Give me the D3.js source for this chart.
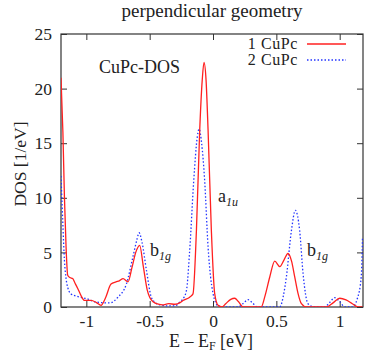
<!DOCTYPE html>
<html>
<head>
	<title>CuPc DOS</title>
	<script src="https://d3js.org/d3.v7.min.js"></script>
	<style>
		body { margin: 0; background: #fff; }
		text { font-family: "Liberation Serif", "DejaVu Serif", serif; fill: #222; }
	</style>
</head>
<body>
	<svg id="chart" width="374" height="353"></svg>
	<script type="text/javascript">
		// 1 CuPc (red, solid)
		var energy1 = [-1.2, -1.185, -1.173, -1.16, -1.147, -1.13, -1.108, -1.09, -1.068, -1.04, -1.015, -0.963, -0.92, -0.884, -0.85, -0.805, -0.766, -0.74, -0.71, -0.671, -0.64, -0.61, -0.579, -0.55, -0.52, -0.5, -0.47, -0.447, -0.4, -0.35, -0.3, -0.26, -0.237, -0.184, -0.158, -0.131, -0.105, -0.085, -0.071, -0.055, -0.039, -0.013, 0.013, 0.04, 0.07, 0.1, 0.14, 0.171, 0.2, 0.237, 0.38, 0.41, 0.448, 0.487, 0.527, 0.56, 0.592, 0.62, 0.645, 0.67, 0.698, 0.737, 0.895, 0.95, 1.0, 1.05, 1.1, 1.145, 1.18];
		var dos1 = [21, 16, 10.1, 5.5, 2.9, 2.7, 2.6, 2.2, 1.7, 1.0, 0.6, 0.6, 0.4, 0.15, 0.8, 2.1, 2.3, 2.4, 2.6, 2.3, 3.6, 5.0, 5.65, 3.7, 1.6, 0.9, 0.45, 0.3, 0.2, 0.3, 0.25, 0.4, 0.6, 0.9, 1.2, 7, 16.2, 20.8, 22.4, 20.8, 16.2, 7, 1.25, 0.15, 0, 0.3, 0.7, 0.8, 0.5, 0, 0, 1.0, 2.75, 4.2, 3.7, 4.3, 4.9, 4.2, 2.75, 1.3, 0.3, 0, 0, 0.4, 0.8, 0.65, 0.3, 0, 0];

		// 2 CuPc (blue, dotted)
		var energy2 = [-1.2, -1.185, -1.173, -1.16, -1.147, -1.121, -1.08, -1.0, -0.92, -0.816, -0.75, -0.684, -0.632, -0.6, -0.584, -0.56, -0.526, -0.487, -0.45, -0.42, -0.35, -0.3, -0.263, -0.24, -0.21, -0.184, -0.152, -0.125, -0.11, -0.09, -0.066, -0.039, 0, 0.04, 0.08, 0.2, 0.24, 0.276, 0.31, 0.35, 0.527, 0.555, 0.579, 0.619, 0.65, 0.684, 0.711, 0.75, 0.8, 0.88, 0.92, 0.96, 1.0, 1.04, 1.1, 1.14, 1.17, 1.18];
		var dos2 = [12, 7.5, 4.3, 2.6, 1.8, 1.2, 1.0, 0.77, 0.45, 0.37, 0.9, 2.1, 4.6, 6.2, 6.8, 5.9, 3.4, 0.9, 0.35, 0.2, 0.1, 0.1, 0.45, 0.7, 1.5, 5.2, 11.6, 15.5, 16.3, 15, 11.6, 5.5, 1.25, 0.1, 0, 0, 0.35, 0.68, 0.4, 0, 0, 1.0, 2.75, 7, 8.85, 7, 3.05, 0.3, 0, 0, 0.4, 0.85, 0.5, 0, 0, 0.8, 2.75, 6.3];

		var xTicks = [-1, -0.5, 0, 0.5, 1];
		var xTickLabels = ['-1', '-0.5', '0', '0.5', '1'];
		var yTicks = [0, 5, 10, 15, 20, 25];
		var seriesNames = ['1 CuPc', '2 CuPc'];

		var plotLeft = 61, plotRight = 363, plotTop = 34, plotBottom = 307;
		var svg = d3.select('#chart');

		var x = d3.scaleLinear().domain([-1.2, 1.184]).range([plotLeft, plotRight]);
		var y = d3.scaleLinear().domain([0, 25]).range([plotBottom, plotTop]);

		svg.append('defs').append('clipPath').attr('id', 'clip')
			.append('rect').attr('x', plotLeft).attr('y', plotTop)
			.attr('width', plotRight - plotLeft).attr('height', plotBottom - plotTop);

		// axes, gnuplot-style inward ticks on all four sides
		var fmt = (d, i) => xTickLabels[i];
		svg.append('g').attr('transform', 'translate(0,' + plotBottom + ')')
			.call(d3.axisBottom(x).tickValues(xTicks).tickFormat(fmt).tickSizeInner(-6).tickSizeOuter(0).tickPadding(8));
		svg.append('g').attr('transform', 'translate(0,' + plotTop + ')')
			.call(d3.axisTop(x).tickValues(xTicks).tickFormat('').tickSizeInner(-6).tickSizeOuter(0));
		svg.append('g').attr('transform', 'translate(' + plotLeft + ',0)')
			.call(d3.axisLeft(y).tickValues(yTicks).tickSizeInner(-6).tickSizeOuter(0).tickPadding(9));
		svg.append('g').attr('transform', 'translate(' + plotRight + ',0)')
			.call(d3.axisRight(y).tickValues(yTicks).tickFormat('').tickSizeInner(-6).tickSizeOuter(0));
		svg.selectAll('.domain').remove();
		svg.selectAll('.tick line').attr('stroke', '#333');
		svg.selectAll('.tick text').style('font-family', '"Liberation Serif", serif').style('font-size', '17.5px').attr('fill', '#222');

		svg.append('rect').attr('x', plotLeft).attr('y', plotTop)
			.attr('width', plotRight - plotLeft).attr('height', plotBottom - plotTop)
			.attr('fill', 'none').attr('stroke', '#333').attr('stroke-width', 1.2);

		var line = d3.line().x(d => x(d[0])).y(d => y(d[1])).curve(d3.curveMonotoneX);
		var pts1 = energy1.map((e, i) => [e, dos1[i]]);
		var pts2 = energy2.map((e, i) => [e, dos2[i]]);

		var plot = svg.append('g').attr('clip-path', 'url(#clip)');
		plot.append('path').datum(pts2).attr('d', line)
			.attr('fill', 'none').attr('stroke', '#2233ff').attr('stroke-width', 1.3).attr('stroke-dasharray', '1.5,2');
		plot.append('path').datum(pts1).attr('d', line)
			.attr('fill', 'none').attr('stroke', '#ff2020').attr('stroke-width', 1.3);

		// legend
		var legend = svg.append('g');
		legend.selectAll('text').data(seriesNames).enter().append('text')
			.attr('x', 298).attr('y', (d, i) => 49 + i * 16)
			.attr('text-anchor', 'end').style('font-size', '16px').style('letter-spacing', '0.6px').text(d => d);
		legend.append('line').attr('x1', 307).attr('x2', 346).attr('y1', 44).attr('y2', 44)
			.attr('stroke', '#ff2020').attr('stroke-width', 1.3);
		legend.append('line').attr('x1', 307).attr('x2', 346).attr('y1', 60).attr('y2', 60)
			.attr('stroke', '#2233ff').attr('stroke-width', 1.3).attr('stroke-dasharray', '1.5,2');

		// titles and labels
		svg.append('text').attr('x', 212).attr('y', 17).attr('text-anchor', 'middle')
			.style('font-size', '19px').text('perpendicular geometry');
		svg.append('text').attr('x', 99).attr('y', 73).style('font-size', '18px').text('CuPc-DOS');

		var xl = svg.append('text').attr('x', 211).attr('y', 347).attr('text-anchor', 'middle').style('font-size', '18px');
		xl.append('tspan').text('E \u2013 E');
		xl.append('tspan').attr('dy', 3).style('font-size', '12px').text('F');
		xl.append('tspan').attr('dy', -3).text(' [eV]');

		svg.append('text').attr('transform', 'translate(26,164) rotate(-90)')
			.attr('text-anchor', 'middle').style('font-size', '17.5px').text('DOS [1/eV]');

		function sublabel(px, py, main, sub) {
			var t = svg.append('text').attr('x', px).attr('y', py).style('font-size', '18px');
			t.append('tspan').text(main);
			t.append('tspan').attr('dy', 4).style('font-size', '12px').style('font-style', 'italic').text(sub);
		}
		sublabel(218, 202, 'a', '1u');
		sublabel(150, 256, 'b', '1g');
		sublabel(307, 256, 'b', '1g');
	</script>
</body>
</html>
